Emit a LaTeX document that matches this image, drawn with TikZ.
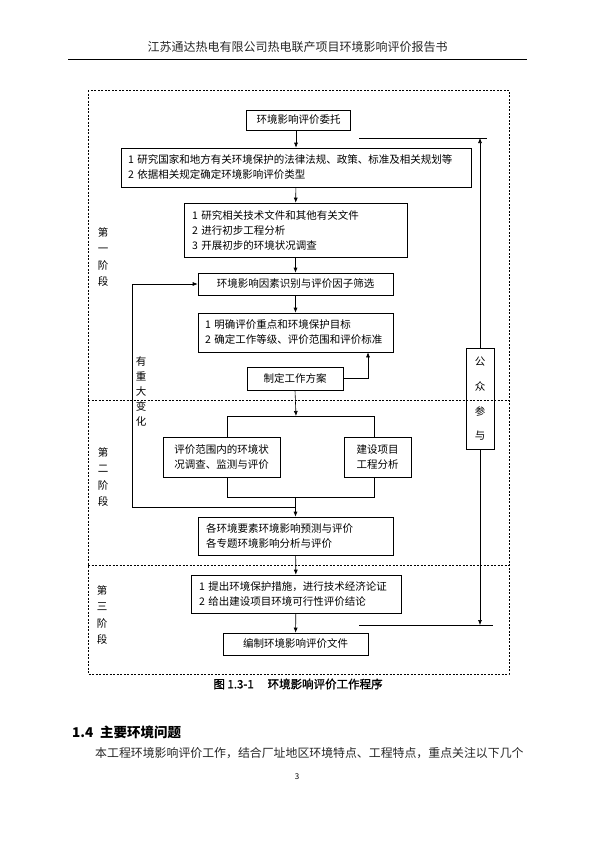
\documentclass[tikz,border=0pt]{standalone}
\usepackage{fontspec}
\usetikzlibrary{arrows.meta}
\newfontfamily\cjk{Noto Sans CJK SC}
\newfontfamily\cjkfb[FakeBold=1.2]{Noto Sans CJK SC}
\tikzset{
  mbox/.style={draw=black, line width=0.6pt, fill=white, inner xsep=7pt, inner ysep=0pt,
    font=\cjk\fontsize{10.5}{15}\selectfont},
  lbox/.style={mbox, align=left, text width=#1},
  cbox/.style={mbox, align=center},
  arr/.style={line width=0.6pt, -{Latex[length=5pt,width=4pt]}},
  ln/.style={line width=0.6pt},
  dsh/.style={line width=0.5pt, dash pattern=on 2pt off 1.5pt},
  vlabel/.style={align=center, inner sep=0pt, font=\cjk\fontsize{10.5}{16.5}\selectfont}
}
\begin{document}
\begin{tikzpicture}[x=1pt,y=-1pt]
\useasboundingbox (0,0) rectangle (595,841);
% page header
\node[font=\cjk\fontsize{12}{14}\selectfont, text=black!85] (hdr) at (297.5,47) {江苏通达热电有限公司热电联产项目环境影响评价报告书};
\coordinate (hl) at (68,59);
\coordinate (hr) at (527,59);
\draw[ln] (hl) -- (hr);
% dashed frame and stage dividers
\draw[dsh] (88,90) rectangle (509,674);
\coordinate (d1l) at (88,400);
\coordinate (d1r) at (509,400);
\coordinate (d2l) at (88,565);
\coordinate (d2r) at (509,565);
\draw[dsh] (d1l) -- (d1r);
\draw[dsh] (d2l) -- (d2r);
% stage labels
\node[vlabel] (s1) at (103,257) {第\\一\\阶\\段};
\node[vlabel] (s2) at (103,477) {第\\二\\阶\\段};
\node[vlabel] (s3) at (102,615) {第\\三\\阶\\段};
% boxes
\node[cbox, minimum width=104pt, minimum height=20pt] (b1) at (298.5,120) {环境影响评价委托};
\node[lbox=336pt, minimum height=39pt] (b2) at (296,167.5) {1 研究国家和地方有关环境保护的法律法规、政策、标准及相关规划等\\2 依据相关规定确定环境影响评价类型};
\node[lbox=207pt, minimum height=54pt, inner xsep=8pt] (b3) at (295.5,230) {1 研究相关技术文件和其他有关文件\\2 进行初步工程分析\\3 开展初步的环境状况调查};
\node[cbox, minimum width=195pt, minimum height=22pt] (b4) at (295.5,284) {环境影响因素识别与评价因子筛选};
\node[lbox=181pt, minimum height=39pt, inner xsep=7pt] (b5) at (295.5,332.5) {1 明确评价重点和环境保护目标\\2 确定工作等级、评价范围和评价标准};
\node[cbox, minimum width=96pt, minimum height=23pt] (b6) at (295,378.5) {制定工作方案};
\node[cbox, minimum width=117pt, minimum height=40pt, inner xsep=2pt] (b7) at (221.5,457) {评价范围内的环境状\\况调查、监测与评价};
\node[cbox, minimum width=67pt, minimum height=40pt, inner xsep=2pt] (b8) at (377.5,457) {建设项目\\工程分析};
\node[lbox=179pt, minimum height=38pt, inner xsep=8pt] (b9) at (295.5,536) {各环境要素环境影响预测与评价\\各专题环境影响分析与评价};
\node[lbox=194pt, minimum height=38pt, inner xsep=8pt] (b10) at (296,594) {1 提出环境保护措施，进行技术经济论证\\2 给出建设项目环境可行性评价结论};
\node[cbox, minimum width=145pt, minimum height=22pt] (b11) at (295.5,644) {编制环境影响评价文件};
\node[draw=black, line width=0.6pt, minimum width=28pt, minimum height=101pt, inner sep=0pt, align=center,
  font=\cjk\fontsize{10.5}{24.7}\selectfont] (pub) at (480,399) {公\\众\\参\\与};
\node[vlabel, font=\cjk\fontsize{10.5}{15}\selectfont] (chg) at (141,392) {有\\重\\大\\变\\化};
% main flow
\draw[arr] (b1.south -| b2.north) -- (b2.north);
\draw[arr] (b2) -- (b3);
\draw[arr] (b3) -- (b4);
\draw[arr] (b4) -- (b5);
\coordinate (kx) at (368,0);
\draw[arr] (b6.east) -| (b5.south -| kx);
\coordinate (split) at (296,416);
\coordinate (sL) at (227,416);
\coordinate (sR) at (374,416);
\draw[arr] (b6.south) -- (split);
\draw[ln] (b7.north -| sL) -- (sL) -- (sR) -- (b8.north -| sR);
\coordinate (mL) at (227,497);
\coordinate (mR) at (374,497);
\draw[ln] (b7.south -| mL) -- (mL) -- (mR) -- (b8.south -| mR);
\draw[arr] (b9.north |- mL) -- (b9.north);
% loop back on major change
\coordinate (lpB) at (132,507);
\draw[arr] (b9.north |- lpB) -- (lpB) |- (b4.west);
\draw[arr] (b9) -- (b10);
\draw[arr] (b10) -- (b11);
% public participation
\coordinate (fbL) at (359,138);
\coordinate (fbR) at (487,138);
\draw[ln] (fbL) -- (fbR);
\draw[arr] (pub.north) -- (pub.north |- fbL);
\coordinate (fbL2) at (359,625);
\coordinate (fbR2) at (493,625);
\draw[ln] (fbL2) -- (fbR2);
\draw[arr] (pub.south) -- (pub.south |- fbL2);
% caption and following text
\node[font=\cjkfb\fontsize{11.5}{14}\selectfont] (cap) at (298,684) {图 1.3-1\hspace{1.2em}环境影响评价工作程序};
\node[anchor=west, font=\cjk\bfseries\fontsize{13.5}{16}\selectfont, inner sep=0pt] (sec) at (72,732) {1.4\hspace{0.5em}主要环境问题};
\node[anchor=west, font=\cjk\fontsize{11.9}{14}\selectfont, inner sep=0pt, text=black!85] (par) at (95,753) {本工程环境影响评价工作，结合厂址地区环境特点、工程特点，重点关注以下几个};
\node[font=\cjk\fontsize{8}{10}\selectfont] (pg) at (297,777) {3};
\end{tikzpicture}
\end{document}
